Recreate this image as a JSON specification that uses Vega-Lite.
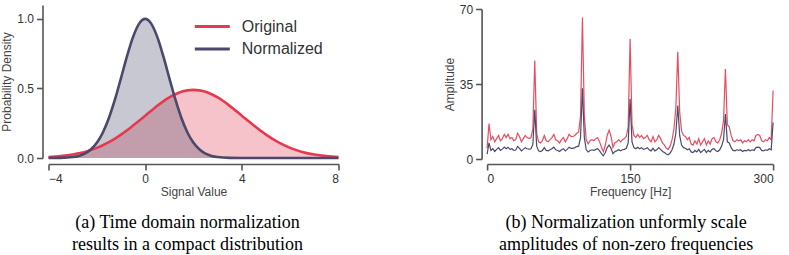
{
  "$schema": "https://vega.github.io/schema/vega-lite/v6.json",
  "background": "white",
  "padding": {"left": 0.5, "top": 3, "right": 5, "bottom": 5},
  "bounds": "flush",
  "spacing": 148.6,
  "config": {
    "view": {"stroke": null},
    "axis": {
      "grid": false,
      "domainColor": "#555555",
      "domainWidth": 1.6,
      "tickColor": "#555555",
      "tickWidth": 1.6,
      "tickSize": 6,
      "labelFont": "Liberation Sans",
      "labelFontSize": 12,
      "labelColor": "#333333",
      "labelPadding": 3,
      "titleFont": "Liberation Sans",
      "titleFontSize": 12,
      "titleFontWeight": "normal",
      "titleColor": "#444444"
    },
    "title": {
      "font": "Liberation Serif",
      "fontSize": 18,
      "fontWeight": "normal",
      "color": "#000000",
      "orient": "bottom",
      "anchor": "middle",
      "frame": "group",
      "lineHeight": 22,
      "offset": 16
    }
  },
  "hconcat": [
    {
      "width": 290,
      "height": 154,
      "title": {"text": ["(a) Time domain normalization", "results in a compact distribution"], "dx": -6},
      "data": {"values": [
        {"x": -4, "Original": 0.0067, "Normalized": 0.0},
        {"x": -3.5, "Original": 0.0134, "Normalized": 0.0011},
        {"x": -3, "Original": 0.025, "Normalized": 0.0068},
        {"x": -2.75, "Original": 0.034, "Normalized": 0.0151},
        {"x": -2.5, "Original": 0.044, "Normalized": 0.0313},
        {"x": -2.25, "Original": 0.058, "Normalized": 0.0605},
        {"x": -2, "Original": 0.073, "Normalized": 0.109},
        {"x": -1.75, "Original": 0.092, "Normalized": 0.1833},
        {"x": -1.5, "Original": 0.114, "Normalized": 0.2875},
        {"x": -1.25, "Original": 0.139, "Normalized": 0.4208},
        {"x": -1, "Original": 0.168, "Normalized": 0.5747},
        {"x": -0.75, "Original": 0.199, "Normalized": 0.7323},
        {"x": -0.5, "Original": 0.233, "Normalized": 0.8707},
        {"x": -0.25, "Original": 0.268, "Normalized": 0.966},
        {"x": 0, "Original": 0.304, "Normalized": 1.0},
        {"x": 0.25, "Original": 0.340, "Normalized": 0.966},
        {"x": 0.5, "Original": 0.375, "Normalized": 0.8707},
        {"x": 0.75, "Original": 0.407, "Normalized": 0.7323},
        {"x": 1, "Original": 0.435, "Normalized": 0.5747},
        {"x": 1.25, "Original": 0.458, "Normalized": 0.4208},
        {"x": 1.5, "Original": 0.476, "Normalized": 0.2875},
        {"x": 1.75, "Original": 0.486, "Normalized": 0.1833},
        {"x": 2, "Original": 0.49, "Normalized": 0.109},
        {"x": 2.25, "Original": 0.486, "Normalized": 0.0605},
        {"x": 2.5, "Original": 0.476, "Normalized": 0.0313},
        {"x": 2.75, "Original": 0.458, "Normalized": 0.0151},
        {"x": 3, "Original": 0.435, "Normalized": 0.0068},
        {"x": 3.5, "Original": 0.375, "Normalized": 0.0011},
        {"x": 4, "Original": 0.304, "Normalized": 0.0001},
        {"x": 4.5, "Original": 0.233, "Normalized": 0.0},
        {"x": 5, "Original": 0.168, "Normalized": 0.0},
        {"x": 5.5, "Original": 0.114, "Normalized": 0.0},
        {"x": 6, "Original": 0.073, "Normalized": 0.0},
        {"x": 6.5, "Original": 0.044, "Normalized": 0.0},
        {"x": 7, "Original": 0.025, "Normalized": 0.0},
        {"x": 7.5, "Original": 0.0134, "Normalized": 0.0},
        {"x": 8, "Original": 0.0067, "Normalized": 0.0}
      ]},
      "transform": [{"fold": ["Original", "Normalized"], "as": ["series", "value"]}],
      "encoding": {
        "x": {
          "field": "x", "type": "quantitative",
          "scale": {"domain": [-4, 8], "nice": false, "zero": false},
          "axis": {"values": [-4, 0, 4, 8], "title": "Signal Value", "offset": 5, "titlePadding": 2.5}
        },
        "y": {
          "field": "value", "type": "quantitative", "stack": null,
          "scale": {"domain": [0, 1.1], "nice": false, "range": [153, 0]},
          "axis": {"values": [0, 0.5, 1.0], "format": ".1f", "title": "Probability Density", "offset": 6, "titlePadding": 3}
        }
      },
      "layer": [
        {
          "transform": [{"filter": "datum.series == 'Original'"}],
          "mark": {"type": "area", "opacity": 0.3, "interpolate": "monotone"},
          "encoding": {"fill": {"value": "#E63950"}}
        },
        {
          "transform": [{"filter": "datum.series == 'Normalized'"}],
          "mark": {"type": "area", "opacity": 0.3, "interpolate": "monotone"},
          "encoding": {"fill": {"value": "#4A496B"}}
        },
        {
          "transform": [{"filter": "datum.series == 'Original'"}],
          "mark": {"type": "line", "strokeWidth": 2.6, "interpolate": "monotone"},
          "encoding": {
            "color": {
              "field": "series", "type": "nominal",
              "scale": {"domain": ["Original", "Normalized"], "range": ["#E63950", "#4A496B"]},
              "legend": {
                "orient": "none", "legendX": 153.3, "legendY": 11, "title": null,
                "symbolType": "M-2,0H2", "symbolSize": 306, "symbolStrokeWidth": 3,
                "labelFont": "Liberation Sans", "labelFontSize": 16, "labelColor": "#333333",
                "labelOffset": 19, "padding": 0, "rowPadding": 3.5
              }
            }
          }
        },
        {
          "transform": [{"filter": "datum.series == 'Normalized'"}],
          "mark": {"type": "line", "strokeWidth": 2.6, "interpolate": "monotone"},
          "encoding": {
            "color": {"field": "series", "type": "nominal"}
          }
        }
      ]
    },
    {
      "width": 286,
      "height": 154,
      "title": {"text": ["(b) Normalization unformly scale", "amplitudes of non-zero frequencies"], "dx": -4},
      "data": {"values": [
        {"f": 0, "Original": 5, "Normalized": 2.3},
        {"f": 2, "Original": 16.5, "Normalized": 7.5},
        {"f": 4, "Original": 9, "Normalized": 4},
        {"f": 6, "Original": 10.5, "Normalized": 4.8},
        {"f": 8, "Original": 8, "Normalized": 3.5},
        {"f": 10, "Original": 9.5, "Normalized": 4.5},
        {"f": 12, "Original": 11, "Normalized": 5.3},
        {"f": 14, "Original": 8.5, "Normalized": 4},
        {"f": 16, "Original": 9.5, "Normalized": 4.6},
        {"f": 18, "Original": 11.5, "Normalized": 5.6},
        {"f": 20, "Original": 10, "Normalized": 4.8},
        {"f": 22, "Original": 11.5, "Normalized": 5.5},
        {"f": 24, "Original": 9.5, "Normalized": 4.5},
        {"f": 26, "Original": 10, "Normalized": 4.8},
        {"f": 28, "Original": 8.5, "Normalized": 4},
        {"f": 30, "Original": 9, "Normalized": 4.2},
        {"f": 32, "Original": 12, "Normalized": 5.8},
        {"f": 34, "Original": 10.5, "Normalized": 5},
        {"f": 36, "Original": 8, "Normalized": 3.8},
        {"f": 38, "Original": 9.5, "Normalized": 4.5},
        {"f": 40, "Original": 11, "Normalized": 5.3},
        {"f": 42, "Original": 10, "Normalized": 4.8},
        {"f": 44, "Original": 9.5, "Normalized": 4.6},
        {"f": 46, "Original": 10, "Normalized": 4.8},
        {"f": 48, "Original": 14, "Normalized": 6.8},
        {"f": 50, "Original": 46, "Normalized": 23},
        {"f": 52, "Original": 12, "Normalized": 6},
        {"f": 54, "Original": 8, "Normalized": 3.8},
        {"f": 56, "Original": 7.5, "Normalized": 3.5},
        {"f": 58, "Original": 8.5, "Normalized": 4},
        {"f": 60, "Original": 11, "Normalized": 5.3},
        {"f": 62, "Original": 8.5, "Normalized": 4},
        {"f": 64, "Original": 8, "Normalized": 3.8},
        {"f": 66, "Original": 9, "Normalized": 4.3},
        {"f": 68, "Original": 10, "Normalized": 4.8},
        {"f": 70, "Original": 11.5, "Normalized": 5.5},
        {"f": 72, "Original": 9, "Normalized": 4.3},
        {"f": 74, "Original": 8.5, "Normalized": 4},
        {"f": 76, "Original": 7.5, "Normalized": 3.5},
        {"f": 78, "Original": 9, "Normalized": 4.3},
        {"f": 80, "Original": 10, "Normalized": 4.8},
        {"f": 82, "Original": 8, "Normalized": 3.8},
        {"f": 84, "Original": 9.5, "Normalized": 4.5},
        {"f": 86, "Original": 11.5, "Normalized": 5.5},
        {"f": 88, "Original": 10.5, "Normalized": 5},
        {"f": 90, "Original": 10.5, "Normalized": 5},
        {"f": 92, "Original": 11, "Normalized": 5.3},
        {"f": 94, "Original": 12, "Normalized": 5.8},
        {"f": 96, "Original": 12.5, "Normalized": 6},
        {"f": 98, "Original": 20, "Normalized": 10},
        {"f": 100, "Original": 66, "Normalized": 33},
        {"f": 102, "Original": 20, "Normalized": 10},
        {"f": 104, "Original": 9, "Normalized": 4.3},
        {"f": 106, "Original": 7, "Normalized": 3.3},
        {"f": 108, "Original": 8.5, "Normalized": 4},
        {"f": 110, "Original": 9, "Normalized": 4.3},
        {"f": 112, "Original": 8.5, "Normalized": 4},
        {"f": 114, "Original": 9.5, "Normalized": 4.5},
        {"f": 116, "Original": 10, "Normalized": 4.8},
        {"f": 118, "Original": 8, "Normalized": 3.8},
        {"f": 120, "Original": 5.5, "Normalized": 2.5},
        {"f": 122, "Original": 3.5, "Normalized": 1.5},
        {"f": 124, "Original": 6.5, "Normalized": 3},
        {"f": 126, "Original": 11, "Normalized": 5.3},
        {"f": 128, "Original": 13.5, "Normalized": 6.5},
        {"f": 130, "Original": 10.5, "Normalized": 5},
        {"f": 132, "Original": 5.5, "Normalized": 2.5},
        {"f": 134, "Original": 7.5, "Normalized": 3.5},
        {"f": 136, "Original": 8, "Normalized": 3.8},
        {"f": 138, "Original": 9, "Normalized": 4.3},
        {"f": 140, "Original": 8, "Normalized": 3.8},
        {"f": 142, "Original": 9, "Normalized": 4.3},
        {"f": 144, "Original": 9.5, "Normalized": 4.5},
        {"f": 146, "Original": 10.5, "Normalized": 5},
        {"f": 148, "Original": 15, "Normalized": 7.5},
        {"f": 150, "Original": 56, "Normalized": 28},
        {"f": 152, "Original": 16, "Normalized": 8},
        {"f": 154, "Original": 11, "Normalized": 5.3},
        {"f": 156, "Original": 10, "Normalized": 4.8},
        {"f": 158, "Original": 11.5, "Normalized": 5.5},
        {"f": 160, "Original": 10, "Normalized": 4.8},
        {"f": 162, "Original": 11, "Normalized": 5.3},
        {"f": 164, "Original": 9.5, "Normalized": 4.5},
        {"f": 166, "Original": 10, "Normalized": 4.8},
        {"f": 168, "Original": 11, "Normalized": 5.3},
        {"f": 170, "Original": 9, "Normalized": 4.3},
        {"f": 172, "Original": 8, "Normalized": 3.8},
        {"f": 174, "Original": 10.5, "Normalized": 5},
        {"f": 176, "Original": 8, "Normalized": 3.8},
        {"f": 178, "Original": 9, "Normalized": 4.3},
        {"f": 180, "Original": 11, "Normalized": 5.3},
        {"f": 182, "Original": 9.5, "Normalized": 4.5},
        {"f": 184, "Original": 7.5, "Normalized": 3.5},
        {"f": 186, "Original": 6.5, "Normalized": 3},
        {"f": 188, "Original": 5, "Normalized": 2.3},
        {"f": 190, "Original": 4.5, "Normalized": 2},
        {"f": 192, "Original": 6, "Normalized": 2.8},
        {"f": 194, "Original": 9, "Normalized": 4.3},
        {"f": 196, "Original": 14, "Normalized": 7},
        {"f": 198, "Original": 24, "Normalized": 12},
        {"f": 200, "Original": 50, "Normalized": 25},
        {"f": 202, "Original": 22, "Normalized": 11},
        {"f": 204, "Original": 13, "Normalized": 6.5},
        {"f": 206, "Original": 11, "Normalized": 5.3},
        {"f": 208, "Original": 10.5, "Normalized": 5},
        {"f": 210, "Original": 9, "Normalized": 4.3},
        {"f": 212, "Original": 10, "Normalized": 4.8},
        {"f": 214, "Original": 7, "Normalized": 3.3},
        {"f": 216, "Original": 6.5, "Normalized": 3},
        {"f": 218, "Original": 8.5, "Normalized": 4},
        {"f": 220, "Original": 7, "Normalized": 3.3},
        {"f": 222, "Original": 9.5, "Normalized": 4.5},
        {"f": 224, "Original": 6.5, "Normalized": 3},
        {"f": 226, "Original": 8, "Normalized": 3.8},
        {"f": 228, "Original": 9.5, "Normalized": 4.5},
        {"f": 230, "Original": 6.5, "Normalized": 3},
        {"f": 232, "Original": 8.5, "Normalized": 4},
        {"f": 234, "Original": 7, "Normalized": 3.3},
        {"f": 236, "Original": 9.5, "Normalized": 4.5},
        {"f": 238, "Original": 10, "Normalized": 4.8},
        {"f": 240, "Original": 8, "Normalized": 3.8},
        {"f": 242, "Original": 7.5, "Normalized": 3.5},
        {"f": 244, "Original": 9, "Normalized": 4.3},
        {"f": 246, "Original": 12, "Normalized": 6},
        {"f": 248, "Original": 18, "Normalized": 9},
        {"f": 250, "Original": 42, "Normalized": 21},
        {"f": 252, "Original": 16, "Normalized": 8},
        {"f": 254, "Original": 15, "Normalized": 7.5},
        {"f": 256, "Original": 11, "Normalized": 5.3},
        {"f": 258, "Original": 8.5, "Normalized": 4},
        {"f": 260, "Original": 8, "Normalized": 3.8},
        {"f": 262, "Original": 9, "Normalized": 4.3},
        {"f": 264, "Original": 8.5, "Normalized": 4},
        {"f": 266, "Original": 9, "Normalized": 4.3},
        {"f": 268, "Original": 7.5, "Normalized": 3.5},
        {"f": 270, "Original": 8.5, "Normalized": 4},
        {"f": 272, "Original": 8, "Normalized": 3.8},
        {"f": 274, "Original": 9, "Normalized": 4.3},
        {"f": 276, "Original": 8, "Normalized": 3.8},
        {"f": 278, "Original": 9, "Normalized": 4.3},
        {"f": 280, "Original": 8.5, "Normalized": 4},
        {"f": 282, "Original": 11, "Normalized": 5.3},
        {"f": 284, "Original": 11.5, "Normalized": 5.5},
        {"f": 286, "Original": 11, "Normalized": 5.3},
        {"f": 288, "Original": 8.5, "Normalized": 4},
        {"f": 290, "Original": 8, "Normalized": 3.8},
        {"f": 292, "Original": 9, "Normalized": 4.3},
        {"f": 294, "Original": 8.5, "Normalized": 4},
        {"f": 296, "Original": 10, "Normalized": 4.8},
        {"f": 298, "Original": 9, "Normalized": 4.3},
        {"f": 300, "Original": 32, "Normalized": 17}
      ]},
      "transform": [{"fold": ["Original", "Normalized"], "as": ["series", "value"]}],
      "encoding": {
        "x": {
          "field": "f", "type": "quantitative",
          "scale": {"domain": [0, 300], "nice": false},
          "axis": {"values": [0, 150, 300], "title": "Frequency [Hz]", "offset": 5, "titlePadding": 2.5}
        },
        "y": {
          "field": "value", "type": "quantitative",
          "scale": {"domain": [0, 70], "nice": false, "range": [154, 4]},
          "axis": {"values": [0, 35, 70], "title": "Amplitude", "offset": 5.5, "titlePadding": 3}
        }
      },
      "layer": [
        {
          "transform": [{"filter": "datum.series == 'Original'"}],
          "mark": {"type": "line", "strokeWidth": 1.2, "color": "#E63950", "opacity": 0.9},
          "encoding": {}
        },
        {
          "transform": [{"filter": "datum.series == 'Normalized'"}],
          "mark": {"type": "line", "strokeWidth": 1.2, "color": "#4A496B"},
          "encoding": {}
        }
      ]
    }
  ]
}
